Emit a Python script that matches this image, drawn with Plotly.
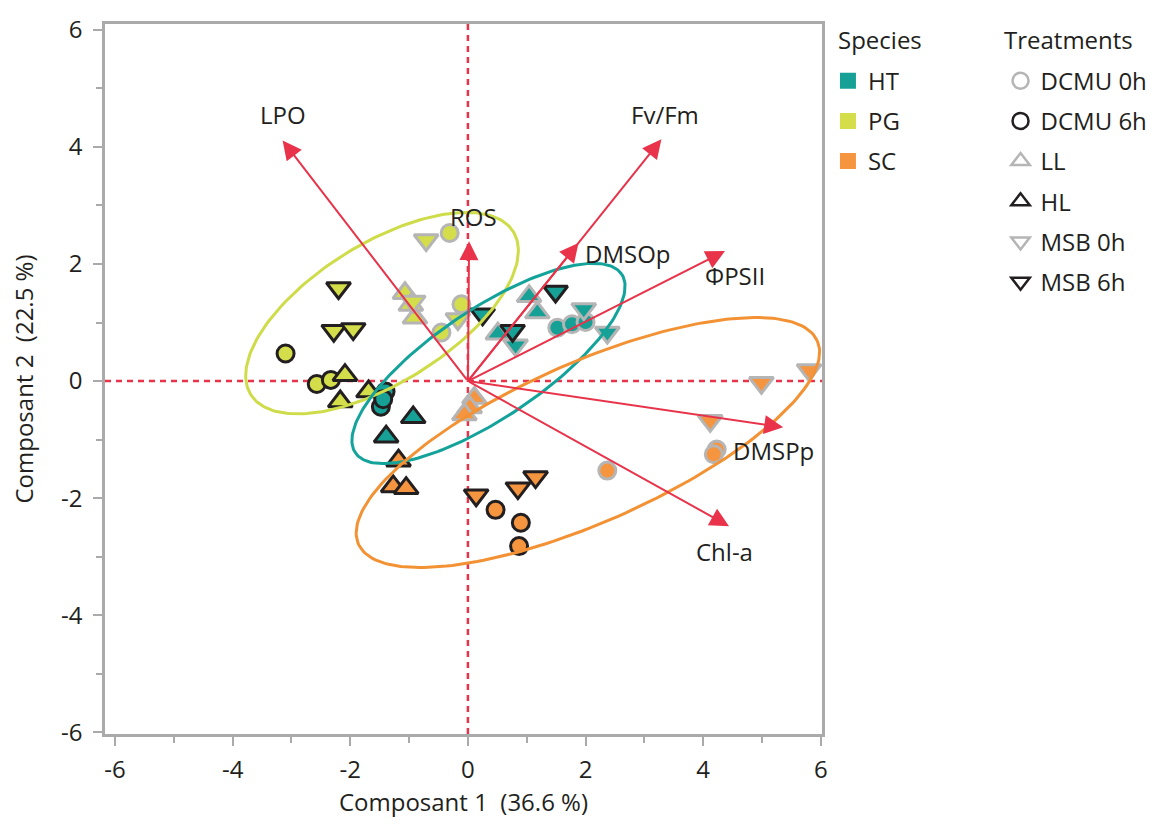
import numpy as np
import plotly.graph_objects as go

# ---------------- data ----------------
species = (["PG"] * 18) + (["HT"] * 17) + (["SC"] * 18)
treatment = (
    ["DCMU 6h"] * 3 + ["HL"] * 3 + ["MSB 6h"] * 3 + ["LL"] * 3 + ["MSB 0h"] * 3 + ["DCMU 0h"] * 3
    + ["MSB 6h"] * 3 + ["LL"] * 3 + ["MSB 0h"] * 3 + ["DCMU 0h"] * 3 + ["DCMU 6h"] * 3 + ["HL"] * 2
    + ["LL"] * 3 + ["HL"] * 3 + ["MSB 6h"] * 3 + ["DCMU 6h"] * 3 + ["MSB 0h"] * 3 + ["DCMU 0h"] * 3
)
pc1 = [
    -3.10, -2.57, -2.33, -2.09, -2.17, -1.69, -2.20, -2.28, -1.95,
    -1.07, -0.90, -0.97, -0.93, -0.71, -0.17, -0.31, -0.45, -0.11,
    0.25, 1.49, 0.76, 1.04, 1.18, 0.51, 0.81, 1.97, 2.37, 1.52, 1.77, 2.00,
    -1.40, -1.48, -1.44, -0.93, -1.39,
    0.11, 0.03, -0.06, -1.18, -1.27, -1.05, 0.14, 0.85, 1.15,
    0.47, 0.90, 0.87, 4.99, 5.80, 4.12, 4.23, 4.18, 2.37,
]
pc2 = [
    0.47, -0.05, 0.02, 0.10, -0.35, -0.18, 1.59, 0.86, 0.89,
    1.50, 1.08, 1.30, 1.36, 2.41, 1.06, 2.53, 0.83, 1.31,
    1.14, 1.53, 0.86, 1.45, 1.17, 0.81, 0.61, 1.23, 0.83, 0.91, 0.97, 1.01,
    -0.18, -0.44, -0.31, -0.62, -0.95,
    -0.29, -0.45, -0.57, -1.36, -1.80, -1.83, -1.95, -1.83, -1.64,
    -2.20, -2.42, -2.82, -0.03, 0.19, -0.68, -1.17, -1.25, -1.53,
]

variables = ["LPO", "Fv/Fm", "ROS", "DMSOp", "ΦPSII", "DMSPp", "Chl-a"]
load1 = [-3.15, 3.29, 0.02, 1.88, 4.37, 5.36, 4.44]
load2 = [4.11, 4.13, 2.39, 2.36, 2.22, -0.79, -2.48]

ell_species = ["PG", "HT", "SC"]
ell_cx = [-1.46, 0.35, 2.04]
ell_cy = [1.16, 0.30, -1.05]
ell_a = [2.63, 2.73, 4.27]
ell_b = [1.19, 0.93, 1.36]
ell_angle = [32, 34, 24]

species_order = ["HT", "PG", "SC"]
treatment_order = ["DCMU 0h", "DCMU 6h", "LL", "HL", "MSB 0h", "MSB 6h"]
tick_values = [-6, -4, -2, 0, 2, 4, 6]
tick_labels = ["-6", "-4", "-2", "0", "2", "4", "6"]

# ---------------- styles ----------------
sp_color = {"HT": "#16a096", "PG": "#d3de4a", "SC": "#f59540"}
ell_color = {"HT": "#13a39a", "PG": "#cfdc4a", "SC": "#f39234"}
GRAY = "#b5b5b5"
BLACK = "#231f20"
tr_style = {
    "DCMU 0h": ("circle", GRAY, 17),
    "DCMU 6h": ("circle", BLACK, 17),
    "LL": ("triangle-up", GRAY, 21),
    "HL": ("triangle-up", BLACK, 21),
    "MSB 0h": ("triangle-down", GRAY, 21),
    "MSB 6h": ("triangle-down", BLACK, 21),
}
RED = "#e8334a"
FONT = "Open Sans"
TXT = "#231f20"
FS = 24

label_off = {
    "LPO": (0, 26, "center"), "Fv/Fm": (4, 25, "center"), "ROS": (4, 25, "center"),
    "DMSOp": (5, -11, "left"), "ΦPSII": (10, -24, "center"), "DMSPp": (-10, -23, "center"),
    "Chl-a": (-5, -25, "center"),
}

fig = go.Figure()

# points
pc1a, pc2a = np.array(pc1), np.array(pc2)
spa, tra = np.array(species), np.array(treatment)
for sp in ["PG", "HT", "SC"]:
    for tr in ["DCMU 0h", "LL", "MSB 0h", "DCMU 6h", "HL", "MSB 6h"]:
        m = (spa == sp) & (tra == tr)
        if not m.any():
            continue
        sym, edge, size = tr_style[tr]
        fig.add_trace(go.Scatter(
            x=pc1a[m], y=pc2a[m], mode="markers", showlegend=False,
            marker=dict(symbol=sym, size=size, color=sp_color[sp],
                        line=dict(color=edge, width=3)),
            hoverinfo="skip"))

# ellipses
t = np.linspace(0, 2 * np.pi, 200)
for sp, cx, cy, a, b, ang in zip(ell_species, ell_cx, ell_cy, ell_a, ell_b, ell_angle):
    th = np.deg2rad(ang)
    ex = cx + a * np.cos(t) * np.cos(th) - b * np.sin(t) * np.sin(th)
    ey = cy + a * np.cos(t) * np.sin(th) + b * np.sin(t) * np.cos(th)
    fig.add_trace(go.Scatter(x=ex, y=ey, mode="lines", showlegend=False,
                             line=dict(color=ell_color[sp], width=3), hoverinfo="skip"))

# loading arrows and labels
for v, lx, ly in zip(variables, load1, load2):
    fig.add_annotation(x=lx, y=ly, ax=0, ay=0, xref="x", yref="y", axref="x", ayref="y",
                       text="", showarrow=True, arrowhead=2, arrowsize=1.9, arrowwidth=2,
                       arrowcolor=RED)
    dx, dy, anchor = label_off[v]
    fig.add_annotation(x=lx, y=ly, xref="x", yref="y", text=v, showarrow=False,
                       xanchor=anchor, yanchor="middle", xshift=dx, yshift=dy,
                       font=dict(family=FONT, size=FS, color=TXT))

# legend titles
fig.add_annotation(x=1.0195, y=0.9777, xref="paper", yref="paper", text="Species",
                   showarrow=False, xanchor="left", yanchor="middle",
                   font=dict(family=FONT, size=FS, color=TXT))
fig.add_annotation(x=1.2517, y=0.9777, xref="paper", yref="paper", text="Treatments",
                   showarrow=False, xanchor="left", yanchor="middle",
                   font=dict(family=FONT, size=FS, color=TXT))

# legend entries
for sp in species_order:
    fig.add_trace(go.Scatter(x=[None], y=[None], mode="markers", name=sp, legend="legend",
                             legendgroup=sp,
                             marker=dict(symbol="square", size=16, color=sp_color[sp])))
for tr in treatment_order:
    sym, edge, size = tr_style[tr]
    fig.add_trace(go.Scatter(x=[None], y=[None], mode="markers", name=tr, legend="legend2",
                             legendgroup=tr,
                             marker=dict(symbol=sym + "-open", size=16, color=edge,
                                         line=dict(width=2.5, color=edge))))

axis_common = dict(
    showline=True, linecolor="#aaaaaa", linewidth=2.5, mirror=True,
    ticks="outside", ticklen=9, tickwidth=2, tickcolor="#aaaaaa",
    tickmode="array", tickvals=tick_values, ticktext=tick_labels,
    showgrid=False, zeroline=False,
    tickfont=dict(family=FONT, size=FS, color=TXT),
    minor=dict(dtick=1, tick0=0, ticks="outside", ticklen=6, tickwidth=2, tickcolor="#aaaaaa"),
)

fig.update_layout(
    width=1165, height=826,
    margin=dict(l=105, r=341, t=15, b=92),
    paper_bgcolor="white", plot_bgcolor="white",
    font=dict(family=FONT, color=TXT),
    xaxis=dict(range=[-6.17, 6.02], title=dict(text="Composant 1\u00a0\u00a0(36.6\u00a0%)",
               font=dict(family=FONT, size=FS, color=TXT), standoff=5),
               ticklabelstandoff=3, **axis_common),
    yaxis=dict(range=[-6.03, 6.1], title=dict(text="Composant 2\u00a0\u00a0(22.5\u00a0%)",
               font=dict(family=FONT, size=FS, color=TXT), standoff=21),
               ticklabelstandoff=6, **axis_common),
    shapes=[
        dict(type="line", xref="x", yref="paper", x0=0, x1=0, y0=0, y1=1,
             line=dict(color=RED, width=2.5, dash="6px,5px"), layer="below"),
        dict(type="line", xref="paper", yref="y", x0=0, x1=1, y0=0, y1=0,
             line=dict(color=RED, width=2.5, dash="6px,5px"), layer="below"),
    ],
    legend=dict(x=1.0083, y=0.9513, xanchor="left", yanchor="top",
                font=dict(family=FONT, size=FS, color=TXT), traceorder="grouped",
                tracegroupgap=6, bgcolor="rgba(0,0,0,0)"),
    legend2=dict(x=1.249, y=0.9513, xanchor="left", yanchor="top",
                 font=dict(family=FONT, size=FS, color=TXT), traceorder="grouped",
                 tracegroupgap=6, bgcolor="rgba(0,0,0,0)"),
)

fig.write_html("out.html")
